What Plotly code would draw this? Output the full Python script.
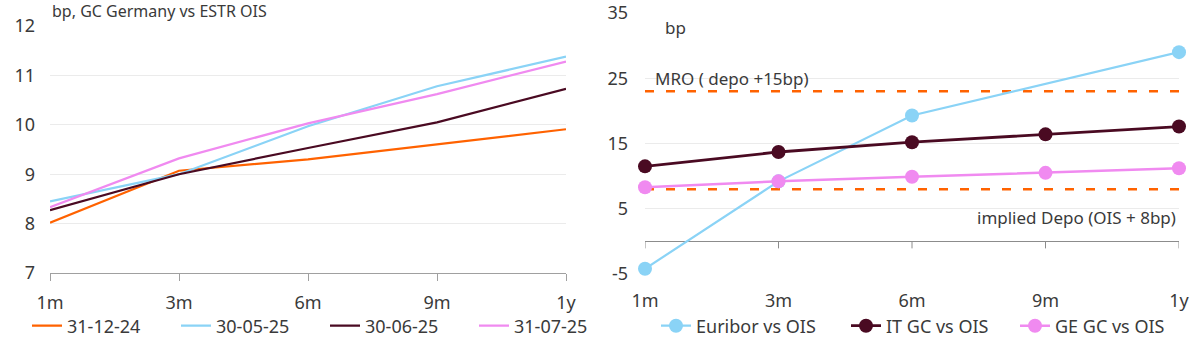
import plotly.graph_objects as go

# ---------------- data ----------------
tenors = ["1m", "3m", "6m", "9m", "1y"]

left_names = ["31-12-24", "30-05-25", "30-06-25", "31-07-25"]
s_311224 = [8.02, 9.07, 9.30, 9.60, 9.91]
s_300525 = [8.45, 9.00, 9.97, 10.78, 11.38]
s_300625 = [8.27, 9.00, 9.53, 10.05, 10.73]
s_310725 = [8.33, 9.32, 10.03, 10.62, 11.28]

right_names = ["Euribor vs OIS", "IT GC vs OIS", "GE GC vs OIS"]
euribor_ois = [-4.2, 9.2, 19.3, None, 29.0]
it_gc_ois = [11.5, 13.7, 15.2, 16.4, 17.6]
ge_gc_ois = [8.3, 9.2, 9.9, 10.5, 11.2]

right_yticks = [-5, 5, 15, 25, 35]
right_yticklabels = ["-5", "5", "15", "25", "35"]

mro_level = 23.0
depo_level = 8.0
mro_label = "MRO ( depo +15bp)"
depo_label = "implied Depo (OIS + 8bp)"

left_title = "bp, GC Germany vs ESTR OIS"
right_title = "bp"

# ---------------- style ----------------
ORANGE = "#FF6200"
SKY = "#8AD3F6"
MAROON = "#4A0A22"
PINK = "#F08AF0"
TXT = "#3a3a3a"
GRID = "#ebebeb"
AXIS = "#a0a0a0"
FONT = "Noto Sans"

W, H = 1200, 343


def px(x):
    return x / W


def py(y):
    return 1 - y / H


fig = go.Figure()

left_colors = [ORANGE, SKY, MAROON, PINK]
left_series = [s_311224, s_300525, s_300625, s_310725]
left_leg_x = [30, 179, 328, 477]
for i, (name, vals, col) in enumerate(zip(left_names, left_series, left_colors)):
    fig.add_trace(go.Scatter(
        x=tenors, y=vals, name=name, mode="lines",
        line=dict(color=col, width=2.2),
        xaxis="x", yaxis="y", legend="legend" if i == 0 else f"legend{i+1}",
        hoverinfo="skip",
    ))

# reference dashed lines (right)
for lvl in (mro_level, depo_level):
    fig.add_trace(go.Scatter(
        x=tenors, y=[lvl] * len(tenors), mode="lines",
        line=dict(color=ORANGE, width=2.5, dash="9px,12px"),
        xaxis="x2", yaxis="y2", showlegend=False, hoverinfo="skip",
    ))

right_colors = [SKY, MAROON, PINK]
right_series = [euribor_ois, it_gc_ois, ge_gc_ois]
right_widths = [2.2, 2.8, 2.5]
right_leg_x = [659, 849, 1018]
for j, (name, vals, col, lw) in enumerate(zip(right_names, right_series, right_colors, right_widths)):
    fig.add_trace(go.Scatter(
        x=tenors, y=vals, name=name, mode="lines+markers",
        line=dict(color=col, width=lw), marker=dict(color=col, size=14),
        connectgaps=True, cliponaxis=False,
        xaxis="x2", yaxis="y2", legend=f"legend{5+j}",
        hoverinfo="skip",
    ))

legend_common = dict(orientation="h", yanchor="middle", y=py(326), xanchor="left",
                     font=dict(family=FONT, size=18, color=TXT),
                     bgcolor="rgba(0,0,0,0)", borderwidth=0)

layout_legends = {}
for i, lx in enumerate(left_leg_x):
    key = "legend" if i == 0 else f"legend{i+1}"
    layout_legends[key] = dict(legend_common, x=px(lx - 3))
for j, lx in enumerate(right_leg_x):
    layout_legends[f"legend{5+j}"] = dict(legend_common, x=px(lx - 3))

fig.update_layout(
    width=W, height=H,
    margin=dict(l=0, r=0, t=0, b=0, autoexpand=False),
    paper_bgcolor="white", plot_bgcolor="white",
    font=dict(family=FONT, size=18, color=TXT),
    showlegend=True,
    xaxis=dict(domain=[px(50), px(566)], type="category", range=[0, 4],
               showgrid=False, showline=True, linecolor=AXIS, linewidth=1,
               ticks="outside", ticklen=7, tickcolor=AXIS,
               tickfont=dict(size=18, color=TXT), ticklabelstandoff=6,
               anchor="y", fixedrange=True, automargin=False),
    yaxis=dict(domain=[py(273), py(26)], range=[7, 12], dtick=1,
               showgrid=True, gridcolor=GRID, gridwidth=1, zeroline=False,
               showline=False, ticks="", ticklabelstandoff=14,
               tickfont=dict(size=18, color=TXT), anchor="x", fixedrange=True,
               automargin=False),
    xaxis2=dict(domain=[px(645), px(1179)], type="category", range=[0, 4],
                showgrid=False, showline=False, ticks="",
                tickfont=dict(size=18, color=TXT), ticklabelstandoff=14,
                anchor="y2", fixedrange=True, automargin=False),
    yaxis2=dict(domain=[py(274), py(13)], range=[-5, 35],
                tickmode="array", tickvals=right_yticks, ticktext=right_yticklabels,
                showgrid=True, gridcolor=GRID, gridwidth=1,
                zeroline=True, zerolinecolor="#8c8c8c", zerolinewidth=1,
                showline=False, ticks="", ticklabelstandoff=16,
                tickfont=dict(size=18, color=TXT), anchor="x2", fixedrange=True,
                automargin=False),
    **layout_legends,
)

# downward tick marks on the zero line of the right chart
for t in tenors:
    fig.add_shape(type="line", xref="x2", yref="y2", x0=t, x1=t,
                  ysizemode="pixel", yanchor=0, y0=0, y1=-7,
                  line=dict(color="#8c8c8c", width=1))

title_font = dict(family=FONT, size=16, color=TXT)
ann_font = dict(family=FONT, size=17, color=TXT)
fig.add_annotation(text=left_title, xref="paper", yref="paper", x=px(50), y=py(11),
                   xanchor="left", yanchor="middle", showarrow=False, font=title_font)
fig.add_annotation(text=right_title, xref="paper", yref="paper", x=px(663), y=py(28),
                   xanchor="left", yanchor="middle", showarrow=False, font=ann_font)
fig.add_annotation(text=mro_label, xref="paper", yref="paper", x=px(653), y=py(78),
                   xanchor="left", yanchor="middle", showarrow=False, font=ann_font)
fig.add_annotation(text=depo_label, xref="paper", yref="paper", x=px(1178), y=py(217),
                   xanchor="right", yanchor="middle", showarrow=False, font=ann_font)

fig.write_html("out.html")
